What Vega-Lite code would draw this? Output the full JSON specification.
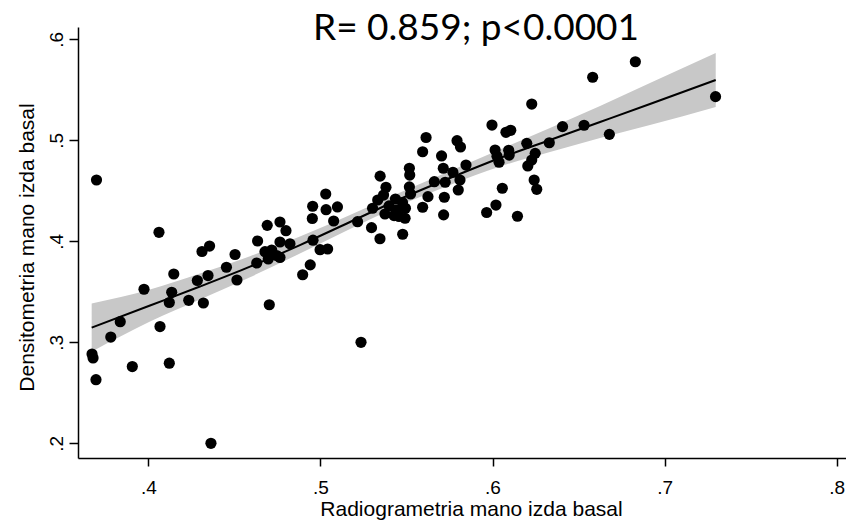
{
  "$schema": "https://vega.github.io/schema/vega-lite/v6.json",
  "width": 768,
  "height": 431,
  "autosize": {"type": "none"},
  "padding": {"left": 78, "top": 27, "right": 0, "bottom": 65},
  "background": "white",
  "config": {
    "view": {"stroke": null},
    "axis": {
      "grid": false,
      "domainColor": "black",
      "tickColor": "black",
      "labelColor": "black",
      "titleColor": "black",
      "labelFont": "Liberation Sans",
      "titleFont": "Liberation Sans",
      "titleFontWeight": "normal",
      "domainWidth": 1.5,
      "tickWidth": 1.5
    }
  },
  "title": {
    "text": "R= 0.859; p<0.0001",
    "font": "Lato",
    "fontSize": 37,
    "fontWeight": "normal",
    "color": "black",
    "anchor": "middle",
    "frame": "group",
    "baseline": "alphabetic",
    "offset": -14,
    "dx": 14,
    "dy": 36
  },
  "datasets": {
    "fit": [
      {"x": 0.3671, "fit": 0.3145, "lo": 0.2907, "hi": 0.3383},
      {"x": 0.4010, "fit": 0.3364, "lo": 0.3206, "hi": 0.3522},
      {"x": 0.4300, "fit": 0.3552, "lo": 0.3423, "hi": 0.3681},
      {"x": 0.4591, "fit": 0.3749, "lo": 0.3645, "hi": 0.3853},
      {"x": 0.4881, "fit": 0.3963, "lo": 0.3879, "hi": 0.4047},
      {"x": 0.5172, "fit": 0.4191, "lo": 0.4122, "hi": 0.4260},
      {"x": 0.5463, "fit": 0.4419, "lo": 0.4355, "hi": 0.4483},
      {"x": 0.5753, "fit": 0.4627, "lo": 0.4558, "hi": 0.4696},
      {"x": 0.6044, "fit": 0.4825, "lo": 0.4741, "hi": 0.4909},
      {"x": 0.6334, "fit": 0.5003, "lo": 0.4884, "hi": 0.5122},
      {"x": 0.6625, "fit": 0.5181, "lo": 0.5023, "hi": 0.5339},
      {"x": 0.6915, "fit": 0.5359, "lo": 0.5151, "hi": 0.5567},
      {"x": 0.7297, "fit": 0.5597, "lo": 0.5330, "hi": 0.5864}
    ],
    "pts": [
      {"x": 0.3699, "y": 0.4607}, {"x": 0.4062, "y": 0.4089}, {"x": 0.4312, "y": 0.3899}, {"x": 0.4356, "y": 0.3953},
      {"x": 0.4504, "y": 0.3869}, {"x": 0.4148, "y": 0.3676}, {"x": 0.4347, "y": 0.3661}, {"x": 0.4285, "y": 0.3612},
      {"x": 0.4454, "y": 0.3743}, {"x": 0.4515, "y": 0.3617}, {"x": 0.3975, "y": 0.3525}, {"x": 0.4136, "y": 0.3495},
      {"x": 0.4122, "y": 0.3394}, {"x": 0.4235, "y": 0.3416}, {"x": 0.4320, "y": 0.3389}, {"x": 0.3837, "y": 0.3204},
      {"x": 0.3782, "y": 0.3052}, {"x": 0.4068, "y": 0.3156}, {"x": 0.3673, "y": 0.2884}, {"x": 0.3679, "y": 0.2845},
      {"x": 0.3907, "y": 0.2760}, {"x": 0.4122, "y": 0.2793}, {"x": 0.3696, "y": 0.2630}, {"x": 0.4364, "y": 0.2000},
      {"x": 0.4635, "y": 0.4003}, {"x": 0.4691, "y": 0.4158}, {"x": 0.4765, "y": 0.4191}, {"x": 0.4800, "y": 0.4105},
      {"x": 0.4765, "y": 0.3993}, {"x": 0.4823, "y": 0.3976}, {"x": 0.4678, "y": 0.3897}, {"x": 0.4717, "y": 0.3914},
      {"x": 0.4746, "y": 0.3859}, {"x": 0.4697, "y": 0.3825}, {"x": 0.4765, "y": 0.3840}, {"x": 0.4630, "y": 0.3785},
      {"x": 0.4703, "y": 0.3372}, {"x": 0.4897, "y": 0.3669}, {"x": 0.4941, "y": 0.3767}, {"x": 0.4957, "y": 0.4011},
      {"x": 0.4998, "y": 0.3917}, {"x": 0.5042, "y": 0.3924}, {"x": 0.4953, "y": 0.4226}, {"x": 0.4955, "y": 0.4347},
      {"x": 0.5031, "y": 0.4468}, {"x": 0.5033, "y": 0.4313}, {"x": 0.5099, "y": 0.4340}, {"x": 0.5077, "y": 0.4201},
      {"x": 0.5216, "y": 0.4194}, {"x": 0.5303, "y": 0.4327}, {"x": 0.5333, "y": 0.4409}, {"x": 0.5297, "y": 0.4135},
      {"x": 0.5346, "y": 0.4025}, {"x": 0.5236, "y": 0.3000}, {"x": 0.5347, "y": 0.4645}, {"x": 0.5381, "y": 0.4535},
      {"x": 0.5367, "y": 0.4458}, {"x": 0.5436, "y": 0.4419}, {"x": 0.5477, "y": 0.4384}, {"x": 0.5399, "y": 0.4350},
      {"x": 0.5494, "y": 0.4327}, {"x": 0.5442, "y": 0.4310}, {"x": 0.5375, "y": 0.4270}, {"x": 0.5428, "y": 0.4255},
      {"x": 0.5492, "y": 0.4228}, {"x": 0.5457, "y": 0.4246}, {"x": 0.5478, "y": 0.4070}, {"x": 0.5517, "y": 0.4723},
      {"x": 0.5519, "y": 0.4656}, {"x": 0.5517, "y": 0.4538}, {"x": 0.5524, "y": 0.4468}, {"x": 0.5614, "y": 0.5028},
      {"x": 0.5594, "y": 0.4887}, {"x": 0.5704, "y": 0.4845}, {"x": 0.5794, "y": 0.4996}, {"x": 0.5814, "y": 0.4934},
      {"x": 0.5846, "y": 0.4755}, {"x": 0.5714, "y": 0.4723}, {"x": 0.5770, "y": 0.4684}, {"x": 0.5811, "y": 0.4607},
      {"x": 0.5801, "y": 0.4508}, {"x": 0.5662, "y": 0.4590}, {"x": 0.5725, "y": 0.4585}, {"x": 0.5625, "y": 0.4442},
      {"x": 0.5594, "y": 0.4337}, {"x": 0.5720, "y": 0.4436}, {"x": 0.5716, "y": 0.4262}, {"x": 0.5997, "y": 0.5151},
      {"x": 0.6078, "y": 0.5079}, {"x": 0.6106, "y": 0.5099}, {"x": 0.6407, "y": 0.5135}, {"x": 0.6199, "y": 0.4970},
      {"x": 0.6330, "y": 0.4976}, {"x": 0.6015, "y": 0.4904}, {"x": 0.6026, "y": 0.4842}, {"x": 0.6038, "y": 0.4783},
      {"x": 0.6094, "y": 0.4901}, {"x": 0.6097, "y": 0.4854}, {"x": 0.6248, "y": 0.4871}, {"x": 0.6228, "y": 0.4805},
      {"x": 0.6205, "y": 0.4746}, {"x": 0.6242, "y": 0.4607}, {"x": 0.6257, "y": 0.4515}, {"x": 0.6057, "y": 0.4525},
      {"x": 0.6020, "y": 0.4359}, {"x": 0.5966, "y": 0.4285}, {"x": 0.6145, "y": 0.4248}, {"x": 0.6228, "y": 0.5359},
      {"x": 0.6532, "y": 0.5149}, {"x": 0.6679, "y": 0.5059}, {"x": 0.6582, "y": 0.5624}, {"x": 0.6830, "y": 0.5778},
      {"x": 0.7296, "y": 0.5432}
    ]
  },
  "layer": [
    {
      "data": {"name": "fit"},
      "mark": {"type": "area", "color": "#c8c8c8", "interpolate": "monotone"},
      "encoding": {
        "x": {
          "field": "x", "type": "quantitative", "title": "Radiogrametria mano izda basal",
          "scale": {"domain": [0.35915, 0.8054], "nice": false, "zero": false},
          "axis": {
            "values": [0.4, 0.5, 0.6, 0.7, 0.8],
            "labelExpr": "replace(format(datum.value, '.1f'), '0.', '.')",
            "tickSize": 8, "labelFontSize": 19, "labelPadding": 12,
            "titleFontSize": 21, "titleBaseline": "alphabetic", "titleY": 57, "titleX": 393
          }
        },
        "y": {
          "field": "lo", "type": "quantitative", "title": "Densitometria mano izda basal",
          "scale": {"domain": [0.18545, 0.61218], "nice": false, "zero": false},
          "axis": {
            "values": [0.2, 0.3, 0.4, 0.5, 0.6],
            "labelExpr": "replace(format(datum.value, '.1f'), '0.', '.')",
            "tickSize": 9, "labelFontSize": 19, "labelAngle": -90, "labelPadding": 3,
            "titleFontSize": 21, "titleBaseline": "alphabetic", "titleX": -44.7, "titleY": 220
          }
        },
        "y2": {"field": "hi"}
      }
    },
    {
      "data": {"name": "fit"},
      "mark": {"type": "line", "color": "black", "strokeWidth": 2, "interpolate": "monotone"},
      "encoding": {
        "x": {"field": "x", "type": "quantitative", "title": "Radiogrametria mano izda basal"},
        "y": {"field": "fit", "type": "quantitative", "title": "Densitometria mano izda basal"}
      }
    },
    {
      "data": {"name": "pts"},
      "mark": {"type": "circle", "color": "black", "size": 125, "opacity": 1},
      "encoding": {
        "x": {"field": "x", "type": "quantitative", "title": "Radiogrametria mano izda basal"},
        "y": {"field": "y", "type": "quantitative", "title": "Densitometria mano izda basal"}
      }
    }
  ]
}
